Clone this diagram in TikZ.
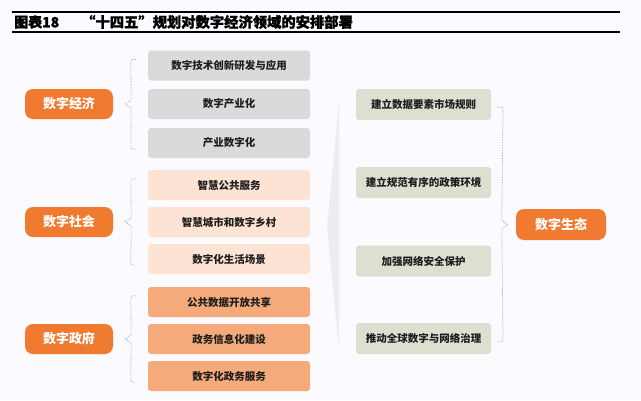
\documentclass[tikz,border=0pt]{standalone}
\usepackage{fontspec}
\setmainfont{Noto Sans CJK SC}
\newfontfamily\titlefont{Noto Sans CJK SC}[BoldFeatures={FakeBold=1.2}]
\usetikzlibrary{calc}
\definecolor{orng}{HTML}{EF7A30}
\definecolor{gbox}{HTML}{DADADA}
\definecolor{pkl}{HTML}{FCE3D4}
\definecolor{pkm}{HTML}{F5AA7B}
\definecolor{grn}{HTML}{DCE0D1}
\definecolor{txt}{HTML}{1E1E1E}
\definecolor{brc}{HTML}{8A8A8A}
\definecolor{shd}{HTML}{ECECF1}
\tikzset{
  item/.style={rounded corners=3pt, minimum width=162pt, minimum height=30pt, inner sep=0pt, font=\fontsize{10.5}{12}\selectfont\bfseries, text=txt},
  ritem/.style={item, minimum width=135pt, minimum height=31pt, fill=grn},
  cat/.style={rounded corners=8pt, fill=orng, minimum width=88pt, minimum height=30pt, inner sep=0pt, font=\fontsize{13}{15}\selectfont\bfseries, text=white},
  brace/.style={draw=brc, densely dotted, line width=0.6pt}
}
\begin{document}
\begin{tikzpicture}[x=1pt,y=-1pt]
\useasboundingbox (0,0) rectangle (641,400);
\fill[white!98!blue] (0,0) rectangle (641,400);
% title
\draw[line width=1.2pt] (12,12) -- (620,12);
\draw[line width=1.2pt] (12,32) -- (620,32);
\node[anchor=west, inner sep=0pt, font=\titlefont\fontsize{14}{16}\selectfont\bfseries] (ttl) at (14,22) {图表18};
\node[anchor=west, inner sep=0pt, font=\titlefont\fontsize{14.3}{16}\selectfont\bfseries] (ttl2) at (81,22) {“十四五”规划对数字经济领域的安排部署};
% faint chevron
\fill[shd] (339,103) -- (327,227) -- (339,350) -- cycle;
% left items
\node[item, fill=gbox] (a1) at (229,65.5) {数字技术创新研发与应用};
\node[item, fill=gbox] (a2) at (229,104) {数字产业化};
\node[item, fill=gbox] (a3) at (229,143) {产业数字化};
\node[item, fill=pkl] (b1) at (229,185) {智慧公共服务};
\node[item, fill=pkl] (b2) at (229,222) {智慧城市和数字乡村};
\node[item, fill=pkl] (b3) at (229,259) {数字化生活场景};
\node[item, fill=pkm] (c1) at (229,302) {公共数据开放共享};
\node[item, fill=pkm] (c2) at (229,339) {政务信息化建设};
\node[item, fill=pkm] (c3) at (229,376) {数字化政务服务};
% categories
\node[cat] (ca) at (69,104) {数字经济};
\node[cat] (cb) at (69,222) {数字社会};
\node[cat] (cc) at (69,339) {数字政府};
% right items
\node[ritem] (r1) at (423.5,104.5) {建立数据要素市场规则};
\node[ritem] (r2) at (423.5,182.5) {建立规范有序的政策环境};
\node[ritem] (r3) at (423.5,261) {加强网络安全保护};
\node[ritem] (r4) at (423.5,338.5) {推动全球数字与网络治理};
\node[cat, minimum width=90pt, minimum height=31pt] (eco) at (561,224.5) {数字生态};
% left braces
\foreach \c/\t/\b in {ca/a1/a3, cb/b1/b3, cc/c1/c3}{
  \coordinate (tip) at ($(\c.east)+(12,0)$);
  \coordinate (top) at ($(\t.north west)+(-12,9)$);
  \coordinate (bot) at ($(\b.south west)+(-12,-9)$);
  \draw[brace] (top) .. controls ($(top)+(-5,0)$) .. ($(top)+(-5,5)$)
     -- ($(tip)+(6,-4)$) -- (tip) -- ($(tip)+(6,4)$)
     -- ($(bot)+(-5,-5)$) .. controls ($(bot)+(-5,0)$) .. (bot);
}
% right brace
\coordinate (rtip) at ($(eco.west)+(-8,0)$);
\coordinate (rtop) at (497,107);
\coordinate (rbot) at (497,342);
\draw[brace] (rtop) .. controls (503,107) .. (503,112)
   -- ($(rtip)+(-6,-4)$) -- (rtip) -- ($(rtip)+(-6,4)$)
   -- (503,337) .. controls (503,342) .. (rbot);
\end{tikzpicture}
\end{document}
